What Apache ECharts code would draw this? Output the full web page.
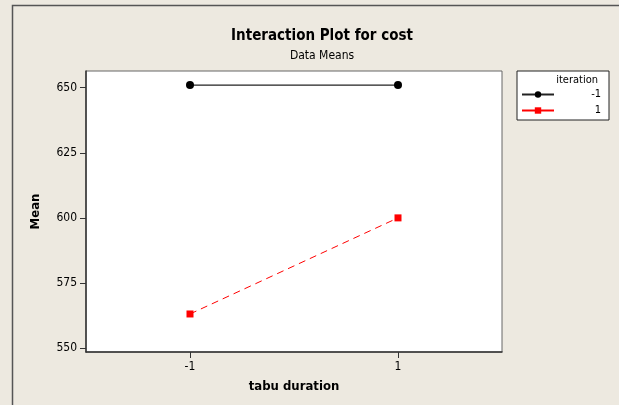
<!DOCTYPE html>
<html>
<head>
<meta charset="utf-8">
<script src="https://cdn.jsdelivr.net/npm/echarts@6/dist/echarts.min.js"></script>
<style>
  html, body { margin: 0; padding: 0; background: #EDE9E0; }
  #chart { width: 619px; height: 405px; }
</style>
</head>
<body>
<div id="chart"></div>
<script>
// Levels of tabu duration (x) and mean cost for each iteration level
const durationLevels = [-1, 1];
const meanIterMinus1 = [651.0, 651.0];
const meanIterPlus1 = [563.1, 600.0];
const iterationNames = ['-1', '1'];
const yTicks = [550, 575, 600, 625, 650];
const xTicks = [-1, 1];

const FONT = '"DejaVu Sans Condensed", "DejaVu Sans", sans-serif';

function pairs(xs, ys) {
  return xs.map((x, i) => [x, ys[i]]);
}

const chart = echarts.init(document.getElementById('chart'));
chart.setOption({
  backgroundColor: '#EDE9E0',
  animation: false,
  textStyle: { fontFamily: FONT },
  title: {
    text: 'Interaction Plot for cost',
    subtext: 'Data Means',
    left: 317,
    textAlign: 'center',
    top: 24,
    itemGap: 6,
    textStyle: { fontFamily: FONT, fontSize: 15, fontWeight: 'bold', color: '#000' },
    subtextStyle: { fontFamily: FONT, fontSize: 12, color: '#000' }
  },
  grid: {
    left: 86, right: 117, top: 71, bottom: 53,
    show: true,
    backgroundColor: '#fff',
    borderColor: '#666',
    borderWidth: 1
  },
  legend: {
    orient: 'vertical',
    left: 517,
    top: 71,
    padding: [18, 8, 4, 4],
    itemGap: 5,
    itemWidth: 32,
    itemHeight: 8,
    borderColor: '#222',
    borderWidth: 1,
    backgroundColor: '#fff',
    lineStyle: { type: 'solid' },
    formatter: '{a|{name}}',
    textStyle: {
      fontFamily: FONT, fontSize: 11, color: '#000',
      rich: { a: { width: 42, align: 'right', fontFamily: FONT, fontSize: 11, color: '#000' } }
    },
    data: iterationNames
  },
  xAxis: {
    type: 'value',
    min: -2,
    max: 2,
    name: 'tabu duration',
    nameLocation: 'middle',
    nameGap: 28,
    nameTextStyle: { fontFamily: FONT, fontSize: 13, fontWeight: 'bold', color: '#000' },
    axisLine: { show: true, onZero: false, lineStyle: { color: '#333', width: 1.5 } },
    axisTick: { show: true, customValues: xTicks, length: 6, lineStyle: { color: '#333' } },
    axisLabel: { customValues: xTicks, fontSize: 12, color: '#000', margin: 9 },
    splitLine: { show: false }
  },
  yAxis: {
    type: 'value',
    min: 548.5,
    max: 656.4,
    name: 'Mean',
    nameLocation: 'middle',
    nameGap: 44,
    nameTextStyle: { fontFamily: FONT, fontSize: 13, fontWeight: 'bold', color: '#000' },
    axisLine: { show: true, onZero: false, lineStyle: { color: '#333', width: 1.5 } },
    axisTick: { show: true, customValues: yTicks, length: 6, lineStyle: { color: '#333' } },
    axisLabel: { customValues: yTicks, fontSize: 12, color: '#000', margin: 9 },
    splitLine: { show: false }
  },
  series: [
    {
      name: iterationNames[0],
      type: 'line',
      data: pairs(durationLevels, meanIterMinus1),
      symbol: 'circle',
      symbolSize: 8,
      itemStyle: { color: '#000' },
      lineStyle: { color: '#222', width: 1.2 }
    },
    {
      name: iterationNames[1],
      type: 'line',
      data: pairs(durationLevels, meanIterPlus1),
      symbol: 'rect',
      symbolSize: 7,
      itemStyle: { color: '#FF0000' },
      lineStyle: { color: '#FF0000', width: 1, type: [7, 5] }
    }
  ],
  graphic: [
    {
      type: 'polyline',
      shape: { points: [[12.5, 405], [12.5, 5.5], [619, 5.5]] },
      style: { stroke: '#555', lineWidth: 1.5, fill: null },
      silent: true
    },
    {
      type: 'text',
      right: 619 - 598,
      top: 75,
      style: { text: 'iteration', font: '11px ' + FONT, fill: '#000', textAlign: 'right' },
      z: 200
    }
  ]
});
</script>
</body>
</html>
